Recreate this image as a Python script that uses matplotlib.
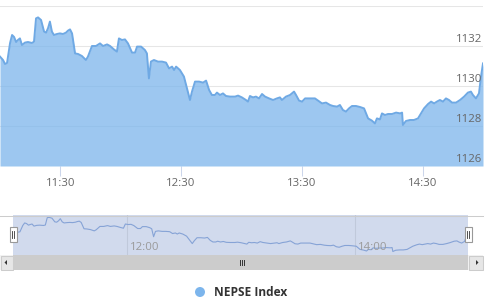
import matplotlib.pyplot as plt
from matplotlib import transforms
from matplotlib.patches import Rectangle, Circle, Polygon

plt.rcParams['font.family'] = ['Open Sans', 'DejaVu Sans']

# minutes after 11:00 and the NEPSE index
minutes = [0.0, 1.5, 2.5, 3.5, 5.0, 6.0, 7.0, 8.0, 8.9, 9.9, 10.9, 12.4, 13.9, 15.9, 16.9,
           17.9, 18.9, 20.4, 21.9, 22.9, 23.9, 24.8, 25.8, 26.8, 28.3, 29.8, 31.3, 32.8,
           33.8, 34.8, 35.8, 37.3, 38.8, 40.7, 42.7, 43.7, 45.7, 47.7, 49.7, 51.2, 53.2,
           54.7, 56.6, 58.1, 59.1, 60.6, 62.1, 63.6, 65.6, 67.1, 68.1, 70.1, 72.0, 73.0,
           74.0, 75.0, 76.5, 78.5, 80.5, 82.5, 84.0, 85.5, 86.5, 87.5, 89.4, 91.4, 92.9,
           94.4, 95.4, 96.9, 98.9, 100.9, 102.4, 103.9, 105.3, 106.8, 107.8, 109.3, 110.8,
           112.3, 114.3, 116.8, 118.3, 120.2, 122.2, 123.2, 124.2, 125.7, 127.2, 128.7,
           130.2, 131.7, 133.7, 135.7, 137.6, 139.1, 140.1, 142.1, 144.1, 146.1, 147.1,
           148.6, 150.1, 151.6, 154.0, 156.5, 158.0, 160.0, 162.0, 164.0, 165.5, 167.5,
           168.9, 170.4, 171.9, 173.4, 174.9, 176.9, 178.9, 180.9, 182.9, 184.8, 186.3,
           187.3, 188.8, 189.8, 191.3, 192.8, 194.8, 196.8, 198.8, 199.8, 200.2, 201.7,
           203.7, 205.7, 207.7, 209.2, 210.7, 212.7, 214.2, 215.7, 217.1, 218.6, 220.1,
           221.6, 223.1, 224.6, 226.6, 228.6, 230.6, 232.5, 234.0, 235.0, 236.5, 238.0,
           239.0, 240.0]
index_values = [1131.47, 1131.30, 1131.10, 1131.15, 1132.15, 1132.55, 1132.45, 1132.20,
                1132.30, 1132.38, 1132.05, 1132.17, 1132.20, 1132.15, 1132.22, 1133.38,
                1133.43, 1133.30, 1132.72, 1132.67, 1132.90, 1133.22, 1132.72, 1132.55,
                1132.60, 1132.63, 1132.60, 1132.67, 1132.77, 1132.83, 1132.63, 1131.63,
                1131.60, 1131.50, 1131.30, 1131.47, 1132.00, 1132.00, 1132.13, 1132.00,
                1132.08, 1132.00, 1131.83, 1131.72, 1132.38, 1132.30, 1132.33, 1132.13,
                1131.67, 1131.67, 1131.97, 1131.97, 1131.80, 1131.63, 1130.38, 1131.22,
                1131.30, 1131.22, 1131.22, 1131.17, 1130.88, 1130.97, 1130.80, 1130.97,
                1130.80, 1130.47, 1129.88, 1129.30, 1129.72, 1130.22, 1130.22, 1130.17,
                1130.27, 1129.80, 1129.55, 1129.55, 1129.67, 1129.55, 1129.63, 1129.50,
                1129.47, 1129.47, 1129.52, 1129.43, 1129.30, 1129.22, 1129.50, 1129.43,
                1129.47, 1129.38, 1129.60, 1129.47, 1129.38, 1129.30, 1129.38, 1129.43,
                1129.30, 1129.47, 1129.55, 1129.72, 1129.55, 1129.27, 1129.22, 1129.38,
                1129.38, 1129.38, 1129.27, 1129.13, 1129.17, 1129.05, 1129.00, 1128.97,
                1129.05, 1128.80, 1128.72, 1128.88, 1129.00, 1129.00, 1128.95, 1128.88,
                1128.38, 1128.27, 1128.13, 1128.38, 1128.33, 1128.63, 1128.55, 1128.60,
                1128.60, 1128.67, 1128.63, 1128.67, 1128.05, 1128.25, 1128.30, 1128.30,
                1128.38, 1128.63, 1128.88, 1129.10, 1129.22, 1129.13, 1129.22, 1129.30,
                1129.22, 1129.38, 1129.30, 1129.17, 1129.17, 1129.30, 1129.47, 1129.67,
                1129.72, 1129.55, 1129.38, 1129.63, 1130.47, 1131.13]

x_ticks = [30, 90, 150, 210]
x_tick_labels = ['11:30', '12:30', '13:30', '14:30']
y_ticks = [1126, 1128, 1130, 1132, 1134]
y_tick_labels = ['1126', '1128', '1130', '1132', '']
nav_ticks = [60, 180]
nav_tick_labels = ['12:00', '14:00']
series_name = 'NEPSE Index'

W, H = 497, 305
fig = plt.figure(figsize=(W / 100, H / 100), dpi=100)


def box(x0, y0, x1, y1):
    # pixel box (top-left origin) -> figure fraction rect
    return [x0 / W, 1 - y1 / H, (x1 - x0) / W, (y1 - y0) / H]


# main chart
ax = fig.add_axes(box(0, 6, 483, 166))
ax.set_facecolor('none')
ax.fill_between(minutes, index_values, 1126, color='#7cb5ec', alpha=0.75, lw=0, zorder=2)
ax.plot(minutes, index_values, color='#6fa9e4', lw=1.4, zorder=3)
ax.set_xlim(0, 240)
ax.set_ylim(1126, 1134)
for s in ax.spines.values():
    s.set_visible(False)
ax.set_yticks(y_ticks)
ax.set_yticklabels([])
ax.tick_params(axis='y', length=0)
ax.grid(axis='y', color='#e6e6e6', lw=0.75, zorder=1)
ax.set_axisbelow(True)
ax.set_xticks(x_ticks, x_tick_labels)
ax.tick_params(axis='x', length=7, width=0.75, color='#ccd6eb', labelcolor='#666666',
               labelsize=8.2, pad=2)

lab_tr = transforms.offset_copy(transforms.blended_transform_factory(ax.transAxes, ax.transData),
                                fig=fig, x=0, y=1.5, units='dots')
for v, lab in zip(y_ticks, y_tick_labels):
    ax.text(0.999, v, lab, transform=lab_tr, ha='right', va='bottom', color='#666666',
            fontsize=8.2, zorder=5)

# navigator
nav = fig.add_axes(box(13.3, 215, 468.3, 255))
nav.set_facecolor('#d1daed')
nav.plot(minutes, index_values, color='#86a3d6', lw=0.8)
nav.set_xlim(0, 240)
nav.set_ylim(1127.5, 1133.8)
nav.set_yticks([])
nav.set_xticks(nav_ticks)
nav.set_xticklabels([])
nav.tick_params(axis='x', length=0)
nav.grid(axis='x', color='#c0c9db', lw=0.75)
for s in nav.spines.values():
    s.set_visible(False)
nav_tr = transforms.offset_copy(transforms.blended_transform_factory(nav.transData, nav.transAxes),
                                fig=fig, x=3, y=0, units='dots')
for t, lab in zip(nav_ticks, nav_tick_labels):
    nav.text(t, 0.2, lab, transform=nav_tr, ha='left', va='center', color='#9a9a9a', fontsize=8.2)

# scrollbar, handles, legend
deco = fig.add_axes([0, 0, 1, 1])
deco.set_xlim(0, W)
deco.set_ylim(H, 0)
deco.axis('off')
deco.set_facecolor('none')
deco.plot([0, 483], [215.5, 215.5], color='#cccccc', lw=0.75)
deco.add_patch(Rectangle((0, 255), 483, 15, fc='#f2f2f2', ec='none'))
deco.add_patch(Rectangle((0.5, 255.5), 12.5, 14, fc='#e6e6e6', ec='#cccccc', lw=0.75))
deco.add_patch(Rectangle((469, 255.5), 13.5, 14, fc='#e6e6e6', ec='#cccccc', lw=0.75))
deco.add_patch(Rectangle((13.3, 255), 455, 15, fc='#cccccc', ec='none'))
deco.add_patch(Polygon([(4.5, 262.5), (7, 260), (7, 265)], color='#333333', lw=0))
deco.add_patch(Polygon([(478.5, 262.5), (476, 260), (476, 265)], color='#333333', lw=0))
for gx in (239.5, 241.5, 243.5):
    deco.plot([gx, gx], [259.5, 264.5], color='#333333', lw=0.7)
for hx in (13.3, 468.3):
    deco.add_patch(Rectangle((hx - 3.5, 227), 7, 15, fc='white', ec='#999999', lw=0.8))
    deco.plot([hx - 1, hx - 1], [231, 238], color='#333333', lw=0.6)
    deco.plot([hx + 1, hx + 1], [231, 238], color='#333333', lw=0.6)

deco.add_patch(Circle((200, 292), 5, color='#7cb5ec', lw=0))
deco.text(214, 292, series_name, ha='left', va='center', fontsize=8.6, fontweight='bold',
          color='#333333')

fig.savefig('out.png', dpi=100)
